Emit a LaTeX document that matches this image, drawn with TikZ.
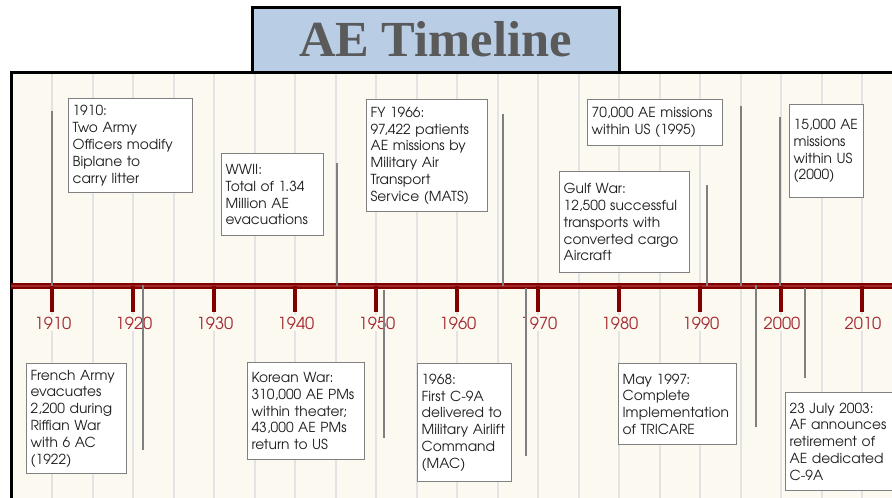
\documentclass[tikz,border=0pt]{standalone}
\usepackage{fontspec}
\newfontfamily\advfont{texgyreadventor-regular.otf}
\newfontfamily\titlefont{Liberation Serif}
\definecolor{cream}{HTML}{FCF9F1}
\definecolor{titleblue}{HTML}{B9CDE5}
\definecolor{titlegray}{HTML}{5A5A5A}
\definecolor{gridgray}{HTML}{E3E3E3}
\definecolor{boxgray}{HTML}{808080}
\definecolor{axisred}{HTML}{800000}
\definecolor{axismid}{HTML}{A02828}
\definecolor{yearred}{HTML}{A3282E}
\definecolor{txtgray}{HTML}{1E1E1E}
\tikzset{
  evbox/.style={draw=boxgray, fill=white, line width=1.2pt, anchor=north west,
    align=left, inner xsep=4pt, inner ysep=3pt, text=txtgray,
    font=\advfont\fontsize{13.8}{16.8}\selectfont},
  conn/.style={draw=boxgray, line width=1.3pt},
  gridline/.style={draw=gridgray, line width=2pt},
  yearlbl/.style={text=yearred, fill=cream, inner sep=2pt,
    font=\advfont\fontsize{16.5}{19}\selectfont},
  majortick/.style={draw=axisred, line width=3.3pt},
}
\begin{document}
\begin{tikzpicture}[x=1pt,y=-1pt]
\useasboundingbox (0,0) rectangle (892,498);
\begin{scope}
\clip (0,0) rectangle (892,498);
% panel
\fill[cream] (11,72) rectangle (900,510);
% grid lines
\foreach \k in {0,...,20} {
  \draw[gridline] ({52+40.5*\k},74) -- ({52+40.5*\k},500);
}
% panel border
\draw[line width=3pt, black] (11,510) -- (11,72) -- (900,72);
% title
\node (title) [draw=black, line width=3pt, fill=titleblue, minimum width=367pt,
  minimum height=65pt, inner sep=0pt, text=titlegray,
  font=\titlefont\bfseries\fontsize{50.5}{56}\selectfont] at (435.5,39.5) {AE Timeline};
% axis
\coordinate (axL) at (11,286);
\coordinate (axR) at (900,286);
\draw[draw=axisred, line width=6pt] (axL) -- (axR);
\draw[draw=axismid, line width=1.5pt] (axL) -- (axR);
% ticks and years
\foreach \y [count=\i from 0] in {1910,1920,1930,1940,1950,1960,1970,1980,1990,2000,2010} {
  \coordinate (t\y) at ({52+81*\i},286);
  \coordinate (tb\y) at ({52+81*\i},312);
  \draw[majortick] (t\y) -- (tb\y);
  \node (yl\y) [yearlbl] at ({53+81*\i},323) {\y};
}
% connectors
\coordinate (c1a) at (52,111);   \coordinate (c1b) at (52,286);
\coordinate (c2a) at (337,163);  \coordinate (c2b) at (337,286);
\coordinate (c3a) at (503,114);  \coordinate (c3b) at (503,286);
\coordinate (c4a) at (741,106);  \coordinate (c4b) at (741,286);
\coordinate (c5a) at (780,117);  \coordinate (c5b) at (780,286);
\coordinate (c6a) at (707,185);  \coordinate (c6b) at (707,286);
\coordinate (c7a) at (143,285);  \coordinate (c7b) at (143,450);
\coordinate (c8a) at (384,290);  \coordinate (c8b) at (384,438);
\coordinate (c9a) at (526,288);  \coordinate (c9b) at (526,456);
\coordinate (c10a) at (756,285); \coordinate (c10b) at (756,427);
\coordinate (c11a) at (805,288); \coordinate (c11b) at (805,378);
\foreach \n in {1,...,11} { \draw[conn] (c\n a) -- (c\n b); }
% event boxes
\node (b1) [evbox, minimum width=124pt, minimum height=94pt, text width=116pt] at (68,98)
  {1910:\\Two Army\\Officers modify\\Biplane to\\carry litter};
\node (b2) [evbox, minimum width=102pt, minimum height=82pt, text width=94pt] at (221,153)
  {WWII:\\Total of 1.34\\Million AE\\evacuations};
\node (b3) [evbox, minimum width=121pt, minimum height=112pt, text width=113pt] at (366,99)
  {FY 1966:\\97,422 patients\\AE missions by\\Military Air\\Transport\\Service (MATS)};
\node (b4) [evbox, minimum width=135pt, minimum height=46pt, text width=127pt] at (587,99)
  {70,000 AE missions\\within US (1995)};
\node (b5) [evbox, minimum width=74pt, minimum height=93pt, text width=66pt] at (789,104)
  {15,000 AE\\missions\\within US\\(2000)};
\node (b6) [evbox, minimum width=130pt, minimum height=101pt, text width=122pt] at (559,171)
  {Gulf War:\\12,500 successful\\transports with\\converted cargo\\Aircraft};
\node (b7) [evbox, minimum width=100pt, minimum height=110pt, text width=92pt] at (26,363)
  {French Army\\evacuates\\2,200 during\\Riffian War\\with 6 AC\\(1922)};
\node (b8) [evbox, minimum width=117pt, minimum height=97pt, text width=109pt] at (247,362)
  {Korean War:\\310,000 AE PMs\\within theater;\\43,000 AE PMs\\return to US};
\node (b9) [evbox, minimum width=94pt, minimum height=118pt, text width=86pt] at (417,363)
  {1968:\\First C-9A\\delivered to\\Military Airlift\\Command\\(MAC)};
\node (b10) [evbox, minimum width=118pt, minimum height=81pt, text width=110pt] at (618,363)
  {May 1997:\\Complete\\Implementation\\of TRICARE};
\node (b11) [evbox, minimum width=115pt, minimum height=98pt, text width=107pt] at (785,392)
  {23 July 2003:\\AF announces\\retirement of\\AE dedicated\\C-9A};
\end{scope}
\end{tikzpicture}
\end{document}
